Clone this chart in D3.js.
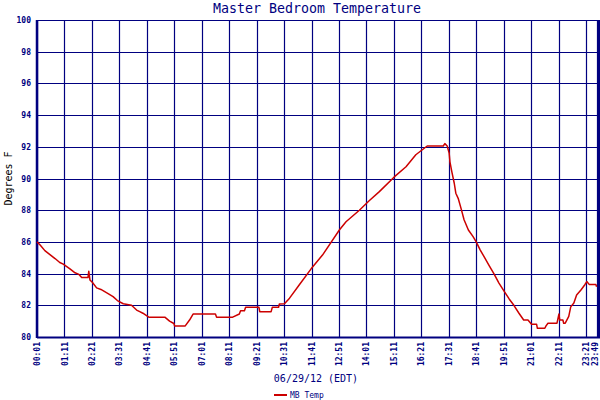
<!DOCTYPE html>
<html>
<head>
<meta charset="utf-8">
<script src="https://cdn.jsdelivr.net/npm/d3@7"></script>
<style>
  body { margin: 0; background: #fff; }
  svg { display: block; }
  .tick text { font-family: "DejaVu Sans Mono", monospace; fill: #000080; }
</style>
</head>
<body>
<svg id="chart"></svg>
<script>
// readings (time of day, degrees F)
const times = ["00:01","00:09","00:21","00:34","00:47","00:59","01:08","01:25","01:38","01:48","01:55",
  "02:11","02:13","02:16","02:22","02:33","02:44","02:58","03:15","03:26","03:41","04:02","04:15","04:23",
  "04:31","04:46","05:27","05:39","05:50","05:52","06:19","06:30","06:39","07:36","07:39","08:20","08:37",
  "08:40","08:50","08:53","09:27","09:29","09:58","10:01","10:17","10:19","10:32","10:45","11:10","11:40",
  "12:09","12:52","13:09","13:43","14:08","14:34","15:12","15:42","16:07","16:36","17:17","17:21","17:27",
  "17:32","17:34","17:39","17:45","17:49","17:55","18:03","18:10","18:21","18:33","18:41","18:51","19:01",
  "19:14","19:26","19:39","19:52","20:05","20:17","20:30","20:42","20:53","21:02","21:15","21:17","21:36",
  "21:39","21:44","22:07","22:12","22:14","22:22","22:24","22:28","22:37","22:42","22:50","22:57","23:08",
  "23:18","23:23","23:29","23:46","23:48"];
const temps = [86.0,85.8,85.45,85.2,84.95,84.7,84.6,84.3,84.05,83.95,83.75,
  83.75,84.15,83.6,83.45,83.1,83.0,82.8,82.55,82.3,82.1,82.0,81.7,81.6,
  81.5,81.25,81.25,81.0,80.85,80.7,80.7,81.07,81.45,81.45,81.25,81.25,81.45,
  81.65,81.65,81.87,81.87,81.6,81.6,81.87,81.87,82.08,82.1,82.45,83.3,84.3,
  85.17,86.75,87.27,88.0,88.6,89.17,90.1,90.74,91.5,92.05,92.05,92.2,92.05,
  91.6,91.05,90.4,89.7,89.07,88.75,88.05,87.4,86.75,86.33,86.0,85.5,85.07,
  84.5,84.0,83.4,82.9,82.4,82.0,81.5,81.07,81.07,80.8,80.8,80.55,80.55,
  80.7,80.87,80.87,81.45,81.07,81.07,80.87,80.87,81.3,81.9,82.15,82.65,82.97,
  83.3,83.5,83.32,83.32,83.17];

const xTickLabels = ["00:01","01:11","02:21","03:31","04:41","05:51","07:01","08:11","09:21","10:31",
  "11:41","12:51","14:01","15:11","16:21","17:31","18:41","19:51","21:01","22:11","23:21","23:49"];
const yTicks = [80, 82, 84, 86, 88, 90, 92, 94, 96, 98, 100];

const title = "Master Bedroom Temperature";
const xTitle = "06/29/12 (EDT)";
const yTitle = "Degrees F";
const seriesName = "MB Temp";

const width = 600, height = 400;
const margin = { top: 20, right: 2, bottom: 63, left: 37 };
const navy = "#000080", red = "#cc0000";

function toMin(s) {
  const p = s.split(":");
  return +p[0] * 60 + +p[1];
}

const data = times.map((t, i) => ({ t: toMin(t), v: temps[i] }));

const svg = d3.select("#chart")
  .attr("width", width)
  .attr("height", height);

const innerW = width - margin.left - margin.right;
const innerH = height - margin.top - margin.bottom;

const chart = svg.append("g")
  .attr("transform", `translate(${margin.left},${margin.top})`);

const xScale = d3.scaleLinear()
  .domain([toMin(xTickLabels[0]), toMin(xTickLabels[xTickLabels.length - 1])])
  .range([0, innerW - 1]);

const yScale = d3.scaleLinear()
  .domain([80, 100])
  .range([innerH, 0]);

// grid
chart.append("g")
  .selectAll("line")
  .data(yTicks)
  .join("line")
  .attr("x1", 0).attr("x2", innerW)
  .attr("y1", d => Math.round(yScale(d)) + 0.5)
  .attr("y2", d => Math.round(yScale(d)) + 0.5)
  .attr("stroke", navy)
  .attr("stroke-width", 1.2);

chart.append("g")
  .selectAll("line")
  .data(xTickLabels)
  .join("line")
  .attr("x1", d => Math.round(xScale(toMin(d))) + 0.5)
  .attr("x2", d => Math.round(xScale(toMin(d))) + 0.5)
  .attr("y1", 0).attr("y2", innerH)
  .attr("stroke", navy)
  .attr("stroke-width", 1.2);

// frame: thick left, bottom and right edges
chart.append("line")
  .attr("x1", 0).attr("x2", 0).attr("y1", 0).attr("y2", innerH + 1)
  .attr("stroke", navy).attr("stroke-width", 2.5);
chart.append("line")
  .attr("x1", 0).attr("x2", innerW + 2).attr("y1", innerH + 0.5).attr("y2", innerH + 0.5)
  .attr("stroke", navy).attr("stroke-width", 2);
chart.append("line")
  .attr("x1", innerW + 1).attr("x2", innerW + 1).attr("y1", 0).attr("y2", innerH + 1)
  .attr("stroke", navy).attr("stroke-width", 2.5);

// axes
const xAxis = d3.axisBottom(xScale)
  .tickValues(xTickLabels.map(toMin))
  .tickFormat((d, i) => xTickLabels[i])
  .tickSize(0)
  .tickPadding(0);

const xAxisG = chart.append("g")
  .attr("transform", `translate(0,${innerH})`)
  .call(xAxis)
  .call(g => g.select(".domain").remove());

xAxisG.selectAll("text")
  .attr("transform", "rotate(-90)")
  .attr("text-anchor", "end")
  .attr("x", -5)
  .attr("y", (d, i) => i === xTickLabels.length - 1 ? -2 : 0)
  .attr("dy", "0.32em")
  .attr("font-size", 8)
  .attr("font-weight", "bold");

const yAxis = d3.axisLeft(yScale)
  .tickValues(yTicks)
  .tickSize(0)
  .tickPadding(6);

chart.append("g")
  .call(yAxis)
  .call(g => g.select(".domain").remove())
  .selectAll("text")
  .attr("font-size", 8)
  .attr("font-weight", "bold");

// the temperature line
chart.append("path")
  .datum(data)
  .attr("fill", "none")
  .attr("stroke", red)
  .attr("stroke-width", 1.5)
  .attr("stroke-linejoin", "round")
  .attr("d", d3.line()
    .x(d => xScale(d.t))
    .y(d => yScale(d.v)));

// titles
svg.append("text")
  .attr("x", 317)
  .attr("y", 13)
  .attr("text-anchor", "middle")
  .attr("font-family", "DejaVu Sans Mono, monospace")
  .attr("font-size", 13.3)
  .attr("fill", navy)
  .text(title);

svg.append("text")
  .attr("x", 316)
  .attr("y", 382)
  .attr("text-anchor", "middle")
  .attr("font-family", "DejaVu Sans Mono, monospace")
  .attr("font-size", 10)
  .attr("fill", navy)
  .text(xTitle);

svg.append("text")
  .attr("transform", `translate(11.5,${margin.top + innerH / 2}) rotate(-90)`)
  .attr("text-anchor", "middle")
  .attr("font-family", "DejaVu Sans Mono, monospace")
  .attr("font-size", 10)
  .attr("fill", "#000000")
  .text(yTitle);

// legend
svg.append("line")
  .attr("x1", 274).attr("x2", 287)
  .attr("y1", 395).attr("y2", 395)
  .attr("stroke", red).attr("stroke-width", 2);

svg.append("text")
  .attr("x", 290)
  .attr("y", 398)
  .attr("font-family", "DejaVu Sans Mono, monospace")
  .attr("font-size", 8)
  .attr("fill", navy)
  .text(seriesName);
</script>
</body>
</html>
